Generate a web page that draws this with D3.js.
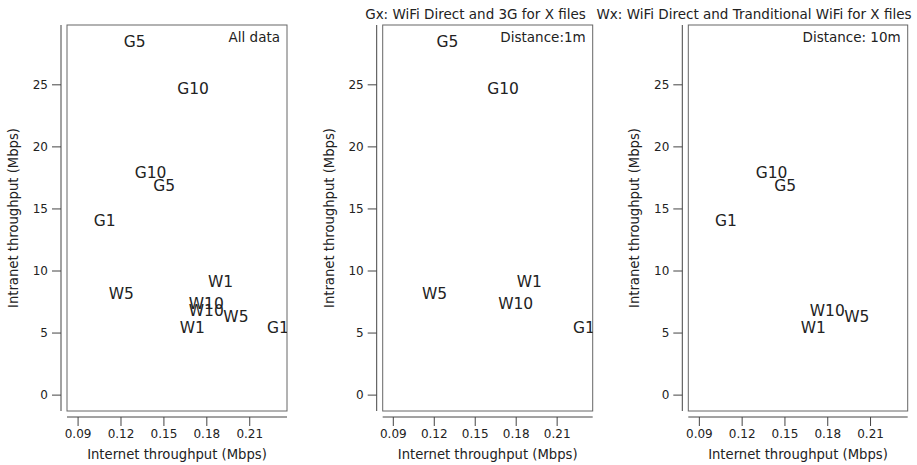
<!DOCTYPE html>
<html>
<head>
<meta charset="utf-8">
<script src="https://cdn.jsdelivr.net/npm/d3@7"></script>
<style>
  body { margin: 0; background: #fff; }
  text { font-family: "DejaVu Sans", sans-serif; fill: #222; }
</style>
</head>
<body>
<div id="chart"></div>
<script>
// data
var labels = ["G1", "G5", "G10", "W1", "W5", "W10"];
var internet1m = [0.230, 0.130, 0.1707, 0.190, 0.1206, 0.180];
var intranet1m = [5.4, 28.5, 24.7, 9.15, 8.15, 7.4];
var internet10m = [0.109, 0.1505, 0.141, 0.1702, 0.2007, 0.180];
var intranet10m = [14.05, 16.9, 17.9, 5.45, 6.3, 6.8];

var xTicks = [0.09, 0.12, 0.15, 0.18, 0.21];
var yTicks = [0, 5, 10, 15, 20, 25];

var svgWidth = 917;
var svgHeight = 465;

var svg = d3.select("#chart")
    .append("svg")
    .attr("width", svgWidth)
    .attr("height", svgHeight);

// points for each panel
var pts1m = labels.map((l, i) => ({label: l, x: internet1m[i], y: intranet1m[i]}));
var pts10m = labels.map((l, i) => ({label: l, x: internet10m[i], y: intranet10m[i]}));

// panel boxes
var panels = [
    {left: 67, right: 287, data: pts1m.concat(pts10m), note: "All data"},
    {left: 382.7, right: 592.7, data: pts1m, note: "Distance:1m",
     title: "Gx: WiFi Direct and 3G for X files", titleX: 475.5},
    {left: 688.3, right: 907.7, data: pts10m, note: "Distance: 10m",
     title: "Wx: WiFi Direct and Tranditional WiFi for X files", titleX: 754}
];
var plotTop = 25, plotBottom = 411;

panels.forEach(function(p, idx) {
    var x = d3.scaleLinear().domain([0.0826, 0.2364]).range([p.left, p.right]);
    var y = d3.scaleLinear().domain([-1.32, 29.78]).range([plotBottom, plotTop]);

    var g = svg.append("g");

    // clip text to the plot region
    g.append("clipPath").attr("id", "clip" + idx)
        .append("rect")
        .attr("x", p.left).attr("y", plotTop)
        .attr("width", p.right - p.left).attr("height", plotBottom - plotTop);

    // box
    g.append("rect")
        .attr("x", p.left).attr("y", plotTop)
        .attr("width", p.right - p.left).attr("height", plotBottom - plotTop)
        .attr("fill", "none")
        .attr("stroke", "#666")
        .attr("stroke-width", 1);

    // y axis (offset from box)
    var yAxis = d3.axisLeft(y).tickValues(yTicks).tickSize(9).tickPadding(4).tickFormat(d3.format("d"));
    var ya = g.append("g")
        .attr("transform", `translate(${p.left - 6}, 0)`)
        .call(yAxis);
    ya.select(".domain").attr("d", `M0,${plotTop}V${plotBottom}`);

    // x axis
    var xAxis = d3.axisBottom(x).tickValues(xTicks).tickSize(9).tickPadding(3).tickFormat(d3.format(".2f"));
    var xa = g.append("g")
        .attr("transform", `translate(0, ${plotBottom + 6})`)
        .call(xAxis);
    xa.select(".domain").attr("d", `M${p.left},0H${p.right}`);

    g.selectAll(".domain, .tick line").attr("stroke", "#444");
    g.selectAll(".tick text")
        .style("font-family", "DejaVu Sans")
        .style("font-size", "12px")
        .attr("fill", "#222");

    // axis titles
    g.append("text")
        .attr("x", (p.left + p.right) / 2)
        .attr("y", 459)
        .attr("text-anchor", "middle")
        .style("font-size", "13.2px")
        .text("Internet throughput (Mbps)");

    g.append("text")
        .attr("transform", `translate(${p.left - 49}, ${(plotTop + plotBottom) / 2}) rotate(-90)`)
        .attr("text-anchor", "middle")
        .style("font-size", "13.2px")
        .text("Intranet throughput (Mbps)");

    // note in top right corner
    g.append("text")
        .attr("x", p.right - 7)
        .attr("y", 42)
        .attr("text-anchor", "end")
        .style("font-size", "13.5px")
        .text(p.note);

    if (p.title) {
        g.append("text")
            .attr("x", p.titleX)
            .attr("y", 19)
            .attr("text-anchor", "middle")
            .style("font-size", "13.5px")
            .text(p.title);
    }

    // point labels
    g.append("g")
        .attr("clip-path", `url(#clip${idx})`)
        .selectAll("text")
        .data(p.data)
        .enter()
        .append("text")
        .attr("x", d => x(d.x))
        .attr("y", d => y(d.y))
        .attr("dy", "0.37em")
        .attr("text-anchor", "middle")
        .style("font-size", "15.5px")
        .text(d => d.label);
});
</script>
</body>
</html>
